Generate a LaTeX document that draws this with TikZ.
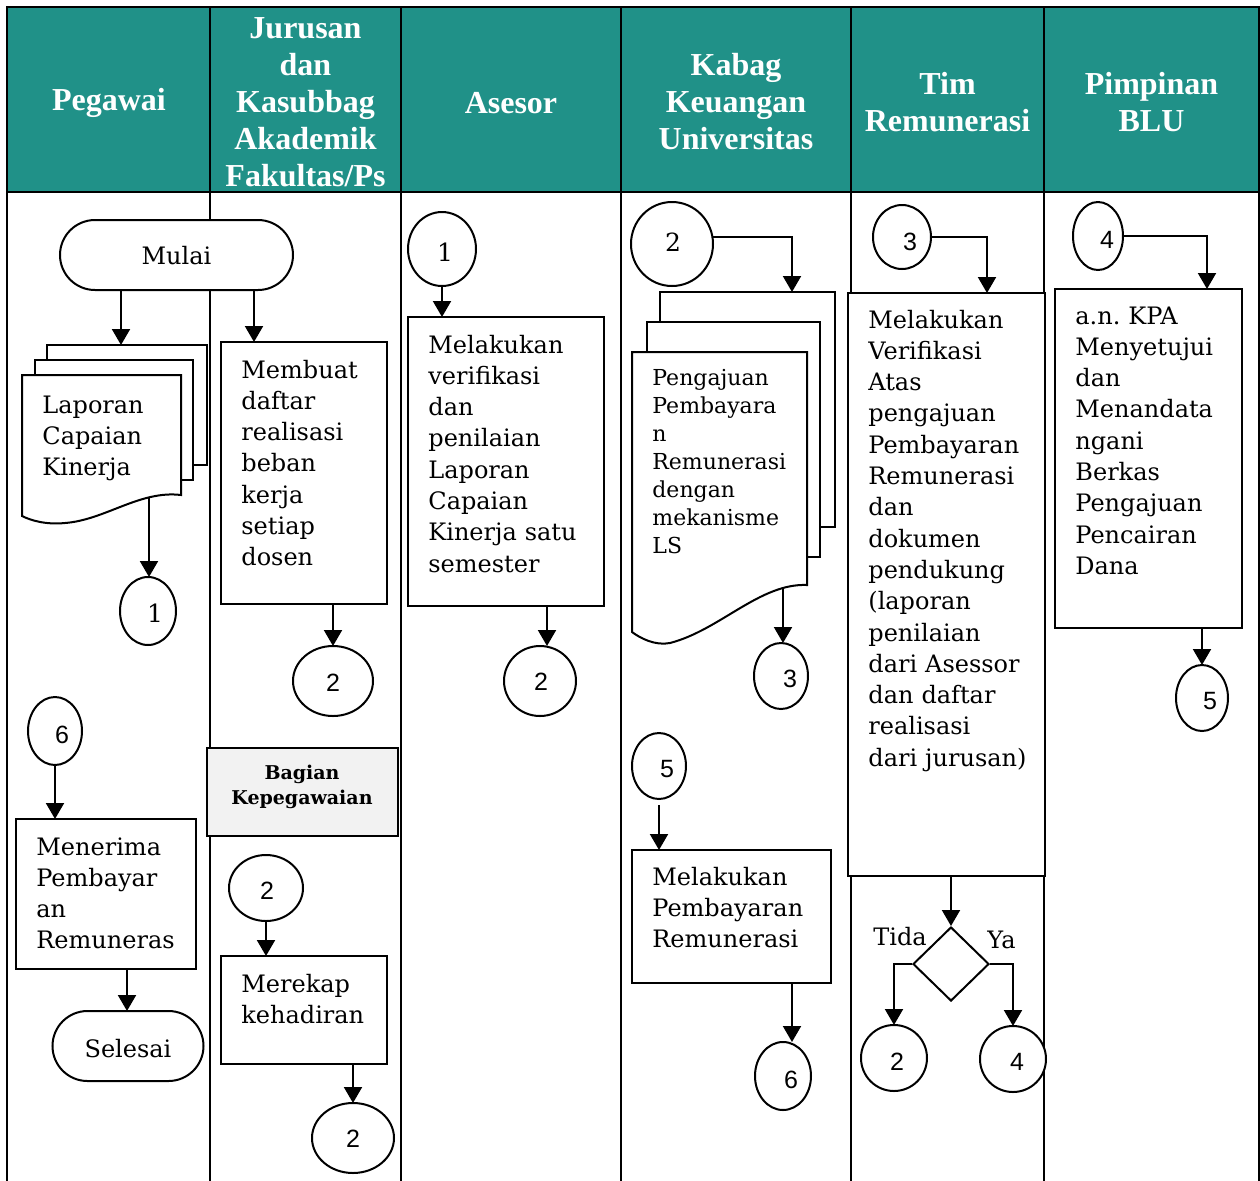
\documentclass[tikz,border=0pt]{standalone}
\usepackage{fontspec}
\setmainfont{DejaVu Serif}
\newfontfamily\headfont{Liberation Serif}
\newfontfamily\digitfont{Liberation Sans}
\usetikzlibrary{arrows.meta,shapes.geometric,shapes.misc}
\definecolor{laneteal}{RGB}{32,145,136}
\definecolor{notegray}{RGB}{242,242,242}
\newcommand\bodysize{\fontsize{12}{15.65}\selectfont}
\newcommand\docsize{\fontsize{11}{14}\selectfont}
\begin{document}
\begin{tikzpicture}[x=0.5pt,y=-0.5pt,
  lane/.style={line width=1.4pt},
  flow/.style={draw=black,line width=1pt,fill=white},
  box/.style={flow,rectangle,anchor=north west,inner sep=0pt,outer sep=0pt},
  term/.style={flow,rounded rectangle,inner sep=0pt,outer sep=0pt,font=\bodysize},
  conn/.style={flow,ellipse,inner sep=0pt,outer sep=0pt},
  txt/.style={anchor=base west,inner sep=0pt,text width=110pt,align=left,font=\bodysize},
  digit/.style={inner sep=0pt,font=\digitfont\fontsize{12.5}{14}\selectfont},
  sdigit/.style={inner sep=0pt,font=\fontsize{12.5}{14}\selectfont},
  head/.style={inner sep=0pt,text=white,align=center,font=\headfont\bfseries\fontsize{16}{18.5}\selectfont},
  arr/.style={line width=1pt,-{Triangle[width=9pt,length=8pt]}}
]
\useasboundingbox (0,0) rectangle (1260,1180);

% ---------- swimlane table ----------
\fill[laneteal] (7,7) rectangle (1259,192);
\draw[lane] (7,1182) -- (7,7) -- (1259,7) -- (1259,1182);
\draw[lane] (7,192) -- (1259,192);
\foreach \x in {210,401,621,851,1044} \draw[lane] (\x,7) -- (\x,1182);

\node[head] (hpeg) at (109,103) {Pegawai};
\node[head] (hjur) at (305.5,102) {Jurusan\\dan\\Kasubbag\\Akademik\\Fakultas/Ps};
\node[head] (hase) at (511,103) {Asesor};
\node[head] (hkab) at (736,102) {Kabag\\Keuangan\\Universitas};
\node[head] (htim) at (947.5,102) {Tim\\Remunerasi};
\node[head] (hpim) at (1151.5,102) {Pimpinan\\BLU};

% ---------- Pegawai ----------
\node[term,minimum width=116.5pt,minimum height=35pt] (mulai) at (176.5,255) {\smash{\raisebox{-4.8pt}{Mulai}}};

\node[box,minimum width=80pt,minimum height=60pt] (lap3) at (47,345) {};
\node[box,minimum width=79pt,minimum height=60pt] (lap2) at (35,360) {};
\draw[flow] (22,375) -- (181,375) -- (181,495)
  .. controls (140,490) and (105,520) .. (65,523)
  .. controls (45,525) and (30,520) .. (22,516) -- cycle;
\coordinate (lapwave) at (149,497);
\node[txt] (laptxt) at (42,413) {Laporan\\Capaian\\Kinerja};

\node[conn,minimum width=28pt,minimum height=34pt] (c1a) at (148,611) {};
\node[sdigit] at (155,613) {1};

\node[conn,minimum width=27pt,minimum height=34pt] (c6a) at (55,731) {};
\node[digit] at (62,735) {6};

\node[box,minimum width=90pt,minimum height=75pt] (mener) at (16,819) {};
\node[txt] at (36,855) {Menerima\\Pembayar\\an\\Remuneras};

\node[term,minimum width=75.5pt,minimum height=35pt] (selesai) at (128,1046) {\smash{\raisebox{-5.5pt}{Selesai}}};

% ---------- Jurusan / Kasubbag ----------
\node[box,minimum width=83pt,minimum height=131pt] (memb) at (221,342) {};
\node[txt] at (241,378) {Membuat\\daftar\\realisasi\\beban\\kerja\\setiap\\dosen};

\node[conn,minimum width=40pt,minimum height=35pt] (c2a) at (333,681) {};
\node[digit] at (333,683) {2};

\node[box,fill=notegray,minimum width=95.5pt,minimum height=44pt] (bagian) at (207,748) {};
\node[anchor=base,inner sep=0pt,text width=95pt,align=center,font=\bfseries\fontsize{9.5}{12.5}\selectfont] at (302,779) {Bagian\\Kepegawaian};

\node[conn,minimum width=37pt,minimum height=33pt] (c2b) at (266,888) {};
\node[digit] at (267,891) {2};

\node[box,minimum width=83pt,minimum height=54pt] (merekap) at (221,956) {};
\node[txt] at (241,992) {Merekap\\kehadiran};

\node[conn,minimum width=41pt,minimum height=35pt] (c2c) at (353,1138) {};
\node[digit] at (353,1139) {2};

% ---------- Asesor ----------
\node[conn,minimum width=34pt,minimum height=37pt] (c1b) at (442,249) {};
\node[sdigit] at (445,252) {1};

\node[box,minimum width=98pt,minimum height=144.5pt] (mel1) at (408,317) {};
\node[txt] at (428,353) {Melakukan\\verifikasi\\dan\\penilaian\\Laporan\\Capaian\\Kinerja satu\\semester};

\node[conn,minimum width=36pt,minimum height=35pt] (c2d) at (540,681) {};
\node[digit] at (541,682) {2};

% ---------- Kabag Keuangan ----------
\node[conn,minimum width=41pt,minimum height=42pt] (c2e) at (672,244) {};
\node[sdigit] at (673,242) {2};

\node[box,minimum width=87.5pt,minimum height=117.5pt] (peng3) at (660,292) {};
\node[box,minimum width=86.5pt,minimum height=117.5pt] (peng2) at (647,322) {};
\draw[flow] (632,352) -- (807,352) -- (807,585)
  .. controls (760,583) and (720,630) .. (670,643)
  .. controls (655,646) and (640,638) .. (632,632) -- cycle;
\coordinate (pengwave) at (783,587);
\node[txt,font=\docsize] at (652,385) {Pengajuan\\Pembayara\\n\\Remunerasi\\dengan\\mekanisme\\LS};

\node[conn,minimum width=27pt,minimum height=33pt] (c3a) at (781,676) {};
\node[digit] at (790,679) {3};

\node[conn,minimum width=27pt,minimum height=33pt] (c5a) at (659,766) {};
\node[digit] at (667,769) {5};

\node[box,minimum width=99.5pt,minimum height=66.5pt] (melbayar) at (632,850) {};
\node[txt] at (652,885) {Melakukan\\Pembayaran\\Remunerasi};

\node[conn,minimum width=28pt,minimum height=34pt] (c6b) at (783,1076) {};
\node[digit] at (791,1080) {6};

% ---------- Tim Remunerasi ----------
\node[conn,minimum width=29pt,minimum height=32pt] (c3b) at (902,237) {};
\node[digit] at (910,242) {3};

\node[box,minimum width=98.5pt,minimum height=291.5pt] (verif) at (848,293) {};
\node[txt] at (868,328) {Melakukan\\Verifikasi\\Atas\\pengajuan\\Pembayaran\\Remunerasi\\dan\\dokumen\\pendukung\\(laporan\\penilaian\\dari Asessor\\dan daftar\\realisasi\\dari jurusan)};

\node[flow,diamond,inner sep=0pt,minimum width=38pt,minimum height=37pt] (dia) at (951,964) {};
\node[anchor=base west,inner sep=0pt,font=\bodysize] (tida) at (873,945) {Tida};
\node[anchor=base west,inner sep=0pt,font=\bodysize] (ya) at (987,948) {Ya};

\node[conn,minimum width=33pt,minimum height=33pt] (c2f) at (894,1058) {};
\node[digit] at (897,1062) {2};
\node[conn,minimum width=33pt,minimum height=33pt] (c4a) at (1013,1059) {};
\node[digit] at (1017,1062) {4};

% ---------- Pimpinan BLU ----------
\node[conn,minimum width=25pt,minimum height=34pt] (c4b) at (1098,236) {};
\node[digit] at (1107,240) {4};

\node[box,minimum width=93.5pt,minimum height=169.5pt] (kpa) at (1055,289) {};
\node[txt] at (1075,324) {a.n.\ KPA\\Menyetujui\\dan\\Menandata\\ngani\\Berkas\\Pengajuan\\Pencairan\\Dana};

\node[conn,minimum width=26pt,minimum height=33pt] (c5b) at (1202,698) {};
\node[digit] at (1210,701) {5};

% ---------- connectors ----------
\draw[arr] (mulai.south -| 121,0) -- (lap3.north -| 121,0);
\draw[arr] (mulai.south -| 254,0) -- (memb.north -| 254,0);
\draw[arr] (lapwave) -- (c1a.north -| lapwave);
\draw[arr] (c6a.south) -- (mener.north -| c6a.south);
\draw[arr] (mener.south -| 127,0) -- (selesai.north -| 127,0);

\draw[arr] (memb.south -| c2a.north) -- (c2a.north);
\draw[arr] (c2b.south) -- (merekap.north -| c2b.south);
\draw[arr] (merekap.south -| c2c.north) -- (c2c.north);

\draw[arr] (c1b.south) -- (mel1.north -| c1b.south);
\draw[arr] (mel1.south -| 547,0) -- (c2d.north -| 547,0);

\draw[arr] (c2e.10) -| (peng3.north -| 792,0);
\draw[arr] (pengwave) -- (c3a.north -| pengwave);
\draw[arr] ([yshift=-3pt]c5a.south) -- (melbayar.north -| c5a.south);
\draw[arr] (melbayar.south -| 792,0) -- (c6b.north -| 792,0);

\draw[arr] (c3b.east) -| (verif.north -| 987,0);
\draw[arr] (verif.south -| dia.north) -- (dia.north);
\draw[arr] (dia.west) -| (c2f.north);
\draw[arr] (dia.east) -| (c4a.north);

\draw[arr] (c4b.east) -| (kpa.north -| 1207,0);
\draw[arr] (kpa.south -| c5b.north) -- (c5b.north);
\end{tikzpicture}
\end{document}
